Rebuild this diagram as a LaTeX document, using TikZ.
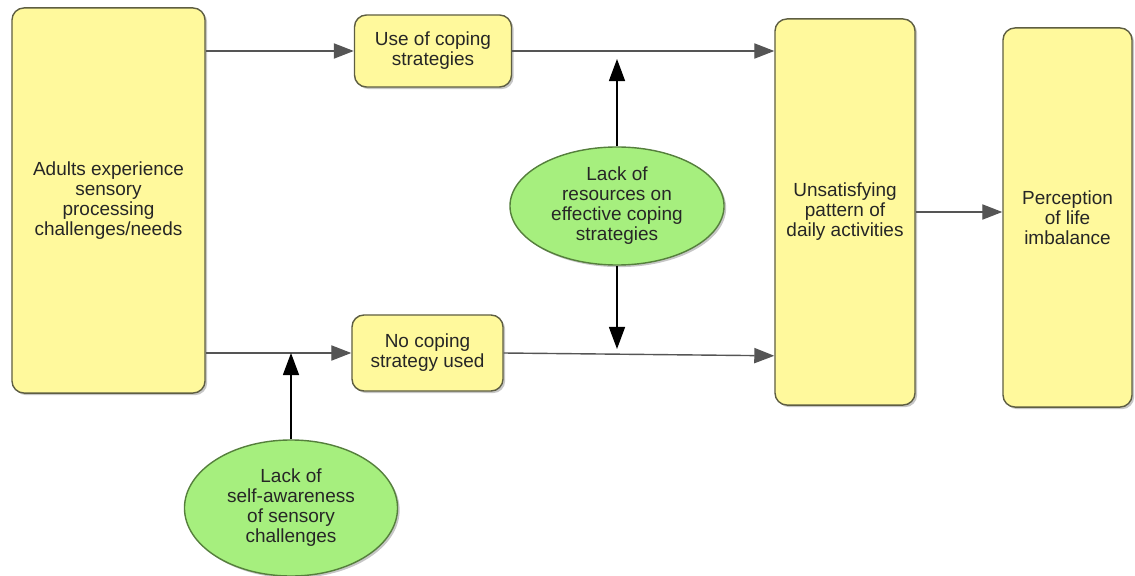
\documentclass[tikz,border=0pt]{standalone}
\usepackage{fontspec}
\setmainfont{Liberation Sans}
\usepackage{xcolor}
\usepackage{tikz}
\usetikzlibrary{positioning, arrows.meta, shapes.geometric, shadows}

\definecolor{boxyellow}{HTML}{FFF99C}
\definecolor{boxedge}{HTML}{5E5E42}
\definecolor{ovalgreen}{HTML}{A6EF7E}
\definecolor{ovaledge}{HTML}{557F3C}
\definecolor{flowgrey}{HTML}{555555}

\begin{document}
\begin{tikzpicture}[x=0.025cm, y=-0.025cm,
    stage/.style={rectangle, rounded corners=0.3cm, draw=boxedge, line width=1pt,
                  fill=boxyellow, inner sep=0pt, align=center, text=black!85,
                  font=\fontsize{13.5}{14.2}\selectfont,
                  drop shadow={shadow xshift=1.5pt, shadow yshift=-1.5pt, opacity=0.45}},
    factor/.style={ellipse, draw=ovaledge, line width=1pt, fill=ovalgreen,
                   inner sep=0pt, align=center, text=black!85,
                   font=\fontsize{13.5}{14.2}\selectfont,
                   drop shadow={shadow xshift=1.5pt, shadow yshift=-1.5pt, opacity=0.45}},
    flow/.style={-{Triangle[length=0.5cm, width=0.38cm]}, line width=1pt, flowgrey},
    effect/.style={-{Triangle[length=0.55cm, width=0.4cm]}, line width=1pt, black}
]
\useasboundingbox (0,0) rectangle (1135,576);

\node[stage, minimum width=4.825cm, minimum height=9.625cm] (adults) at (108.5,200.5)
     {Adults experience\\sensory\\processing\\challenges/needs};
\node[stage, minimum width=3.925cm, minimum height=1.8cm] (usecop) at (433,51)
     {Use of coping\\strategies};
\node[stage, minimum width=3.775cm, minimum height=1.9cm] (nocop) at (427.5,353)
     {No coping\\strategy used};
\node[stage, minimum width=3.5cm, minimum height=9.65cm] (pattern) at (845,212)
     {Unsatisfying\\pattern of\\daily activities};
\node[stage, minimum width=3.225cm, minimum height=9.475cm] (imbalance) at (1067.5,217.5)
     {Perception\\of life\\imbalance};
\node[factor, minimum width=5.35cm, minimum height=2.95cm] (lackres) at (617,206)
     {Lack of\\resources on\\effective coping\\strategies};
\node[factor, minimum width=5.325cm, minimum height=3.4cm] (lackself) at (291,508)
     {Lack of\\self-awareness\\of sensory\\challenges};

\draw[flow] (adults.east |- usecop.west) -- (usecop.west);
\draw[flow] (usecop.east) -- (usecop.east -| pattern.west);
\draw[flow] (adults.east |- nocop.west) -- (nocop.west);
\draw[flow] (nocop.east) -- ([yshift=-0.07cm]nocop.east -| pattern.west);
\draw[flow] (pattern.east) -- (pattern.east -| imbalance.west);

\draw[effect] (lackres.north) -- ([yshift=-0.2cm]lackres.north |- usecop.east);
\draw[effect] (lackres.south) -- ([yshift=0.1cm]lackres.south |- nocop.east);
\draw[effect] (lackself.north) -- (lackself.north |- nocop.west);
\end{tikzpicture}
\end{document}
